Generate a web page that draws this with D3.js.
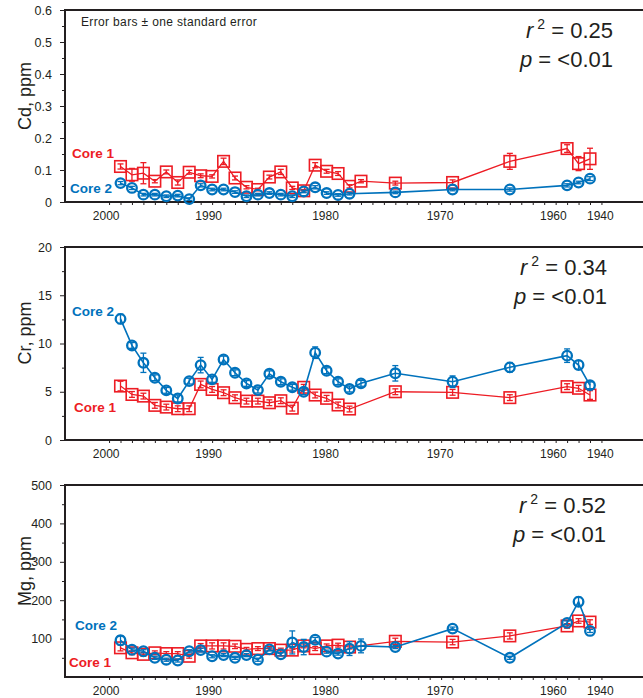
<!DOCTYPE html>
<html><head><meta charset="utf-8">
<script src="https://cdn.jsdelivr.net/npm/d3@7/dist/d3.min.js"></script>
<style>
body{margin:0;background:#fff;}
svg{display:block;font-family:"Liberation Sans",Arial,Helvetica,sans-serif;}
</style></head>
<body><svg id="c" width="643" height="698"></svg>
<script>
// ---- DATA ----
// sample depth index (1 tick = 1 sample interval), oldest at right
const depths = [0,1,2,3,4,5,6,7,8,9,10,11,12,13,14,15,16,17,18,19,20,21,24,29,34,39,40,41];
const yearLabels = ["2000","1990","1980","1970","1960","1940"];
const yearDepths = [-1.25, 7.7, 17.9, 27.9, 37.8, 41.9];

const cdCore1 = [0.111,0.085,0.090,0.065,0.094,0.061,0.093,0.082,0.080,0.127,0.075,0.046,0.039,0.078,0.094,0.044,0.035,0.115,0.096,0.089,0.049,0.065,0.059,0.061,0.127,0.167,0.120,0.135];
const cdCore1Err = [0.008,0.02,0.033,0.005,0.006,0.008,0.006,0.006,0.005,0.01,0.006,0.005,0.004,0.006,0.008,0.005,0.004,0.008,0.006,0.006,0.005,0.005,0.006,0.008,0.025,0.012,0.022,0.033];
const cdCore2 = [0.059,0.044,0.023,0.023,0.018,0.020,0.009,0.052,0.039,0.039,0.031,0.018,0.023,0.028,0.023,0.018,0.033,0.046,0.028,0.022,0.026,null,0.030,0.039,0.039,0.052,0.061,0.073];
const cdCore2Err = [0.005,0.005,0.004,0.004,0.004,0.004,0.004,0.005,0.004,0.004,0.004,0.004,0.004,0.004,0.004,0.004,0.004,0.005,0.004,0.004,0.004,0,0.004,0.004,0.005,0.005,0.004,0.006];

const crCore1 = [5.59,4.72,4.55,3.59,3.41,3.24,3.24,5.76,5.24,4.9,4.38,4.03,4.03,3.86,4.07,3.3,5.46,4.66,4.32,3.63,3.21,null,5.0,4.94,4.39,5.53,5.36,4.66];
const crCore1Err = [0.5,0.3,0.3,0.3,0.3,0.3,0.3,0.35,0.3,0.3,0.3,0.3,0.3,0.3,0.3,0.3,0.3,0.3,0.3,0.3,0.3,0,0.3,0.3,0.3,0.3,0.3,0.45];
const crCore2 = [12.55,9.8,8.0,6.45,5.14,4.3,6.1,7.76,6.28,8.34,6.97,5.86,5.17,6.86,6.04,5.46,5.0,9.05,7.18,6.04,5.28,5.87,6.91,6.04,7.53,8.74,7.77,5.67];
const crCore2Err = [0.5,0.3,1.0,0.3,0.3,0.35,0.3,0.8,0.3,0.35,0.3,0.3,0.3,0.3,0.3,0.3,0.3,0.6,0.3,0.3,0.3,0.3,0.8,0.6,0.5,0.7,0.45,0.35];

const mgCore1 = [76,63,59,63,61,61,54,81,81,81,80,72,74,74,70,70,81,74,81,83,78,null,93,91,107,133,146,143];
const mgCore1Err = [8,5,5,5,5,5,5,6,8,8,6,5,5,5,5,5,5,5,5,5,5,0,8,7,8,6,6,6];
const mgCore2 = [95.6,71,67,50,45,43,67,70,54,57,50,57,45,72,59,90,78,97,66,61,74,81,78,126,50,141,196,120];
const mgCore2Err = [12,4,4,4,4,4,4,5,4,4,4,4,4,4,4,30,20,6,4,4,18,18,4,4,4,5,12,4];

const panelLabels = ["Cd, ppm","Cr, ppm","Mg, ppm"];
const panelMax = [0.6, 20, 500];
const panelMajor = [[0,0.1,0.2,0.3,0.4,0.5,0.6],[0,5,10,15,20],[100,200,300,400,500]];
const panelMinor = [[0.05,0.15,0.25,0.35,0.45,0.55],[2.5,7.5,12.5,17.5],[50,150,250,350,450]];
const r2Values = ["0.25","0.34","0.52"];
const pValues = ["<0.01","<0.01","<0.01"];

// ---- DRAWING ----
const RED = "#ed1c24", BLUE = "#0072bc", INK = "#231f20";
const svg = d3.select("#c");
const x = d3.scaleLinear().domain([0, 41]).range([120.5, 590]);

const layout = [
  {top:10, bottom:202, fmt: d3.format(".1f"), statX:613, core1:[72,158], core2:[70,193]},
  {top:247, bottom:440, fmt: d3.format("d"), statX:607, core1:[74,412], core2:[72,316]},
  {top:485, bottom:677, fmt: d3.format("d"), statX:606, core1:[69,667], core2:[75,630]}
];
const datasets = [
  [cdCore1, cdCore1Err, cdCore2, cdCore2Err],
  [crCore1, crCore1Err, crCore2, crCore2Err],
  [mgCore1, mgCore1Err, mgCore2, mgCore2Err]
];

layout.forEach((L, i) => {
  const g = svg.append("g");
  const y = d3.scaleLinear().domain([0, panelMax[i]]).range([L.bottom, L.top]);

  // y axis major
  const ya = g.append("g").attr("transform","translate(65,0)")
    .call(d3.axisLeft(y).tickValues(panelMajor[i]).tickSize(5).tickPadding(8)
      .tickFormat(v => v === 0 ? "0" : L.fmt(v)));
  ya.select(".domain").remove();
  ya.selectAll("line").attr("stroke", INK);
  ya.selectAll("text").attr("fill", INK).attr("font-size", 12.5).attr("font-family","Liberation Sans, Arial, sans-serif");
  const ym = g.append("g").attr("transform","translate(65,0)")
    .call(d3.axisLeft(y).tickValues(panelMinor[i]).tickSize(3).tickFormat(""));
  ym.select(".domain").remove();
  ym.selectAll("line").attr("stroke", INK);

  // x axis ticks
  const xa = g.append("g").attr("transform",`translate(0,${L.bottom})`)
    .call(d3.axisBottom(x).tickValues(d3.range(-1, 43)).tickSize(3).tickFormat(""));
  xa.select(".domain").remove();
  xa.selectAll("line").attr("stroke", INK);
  g.selectAll(".yr").data(yearLabels).enter().append("text")
    .attr("x", (d, k) => x(yearDepths[k])).attr("y", L.bottom + 18)
    .attr("text-anchor","middle").attr("font-size",12).attr("fill",INK).text(d => d);

  // frame
  g.append("path").attr("d", `M650,${L.top}H65V${L.bottom}H650`)
    .attr("fill","none").attr("stroke",INK).attr("stroke-width",2);

  // y label
  g.append("text").attr("transform", `translate(31,${L.top + 86}) rotate(-90)`)
    .attr("text-anchor","middle").attr("font-size",18).attr("fill",INK).text(panelLabels[i]);

  // stats
  const st = g.append("text").attr("x",L.statX).attr("y",L.top + 28).attr("text-anchor","end")
    .attr("font-size",22).attr("fill",INK);
  st.append("tspan").attr("font-style","italic").text("r");
  st.append("tspan").attr("font-size",14).attr("dy",-9).text(" 2");
  st.append("tspan").attr("dy",9).text(" = " + r2Values[i]);
  const sp = g.append("text").attr("x",L.statX).attr("y",L.top + 57).attr("text-anchor","end")
    .attr("font-size",22).attr("fill",INK);
  sp.append("tspan").attr("font-style","italic").text("p");
  sp.append("tspan").text(" = " + pValues[i]);

  if (i === 0) {
    g.append("text").attr("x",81).attr("y",26).attr("font-size",12).attr("letter-spacing",0.35).attr("fill",INK)
      .text("Error bars \u00b1 one standard error");
  }

  const [v1, e1, v2, e2] = datasets[i];
  const mk = (vals, errs) => depths.map((d, k) => ({d, v: vals[k], e: errs[k]})).filter(p => p.v != null);
  const s1 = mk(v1, e1), s2 = mk(v2, e2);
  const line = d3.line().x(p => x(p.d)).y(p => y(p.v));

  function drawSeries(data, color, lw, shape) {
    const sg = g.append("g");
    sg.append("path").attr("d", line(data)).attr("fill","none").attr("stroke",color).attr("stroke-width",lw);
    const eb = sg.append("g").attr("stroke",color).attr("stroke-width",1.3);
    data.forEach(p => {
      const cx = x(p.d), y1 = y(p.v - p.e), y2 = y(p.v + p.e);
      eb.append("line").attr("x1",cx).attr("x2",cx).attr("y1",y1).attr("y2",y2);
      eb.append("line").attr("x1",cx-3).attr("x2",cx+3).attr("y1",y1).attr("y2",y1);
      eb.append("line").attr("x1",cx-3).attr("x2",cx+3).attr("y1",y2).attr("y2",y2);
    });
    if (shape === "square") {
      sg.selectAll("rect").data(data).enter().append("rect")
        .attr("x", p => x(p.d) - 5.75).attr("y", p => y(p.v) - 5.75)
        .attr("width",11.5).attr("height",11.5).attr("fill","none")
        .attr("stroke",color).attr("stroke-width",1.6);
    } else {
      sg.selectAll("circle").data(data).enter().append("circle")
        .attr("cx", p => x(p.d)).attr("cy", p => y(p.v)).attr("r",4.8)
        .attr("fill","none").attr("stroke",color).attr("stroke-width",2.3);
    }
  }
  drawSeries(s1, RED, 1.3, "square");
  drawSeries(s2, BLUE, 1.6, "circle");

  g.append("text").attr("x",L.core1[0]).attr("y",L.core1[1]).attr("font-size",13.5)
    .attr("font-weight","bold").attr("fill",RED).text("Core 1");
  g.append("text").attr("x",L.core2[0]).attr("y",L.core2[1]).attr("font-size",13.5)
    .attr("font-weight","bold").attr("fill",BLUE).text("Core 2");
});
</script></body></html>
